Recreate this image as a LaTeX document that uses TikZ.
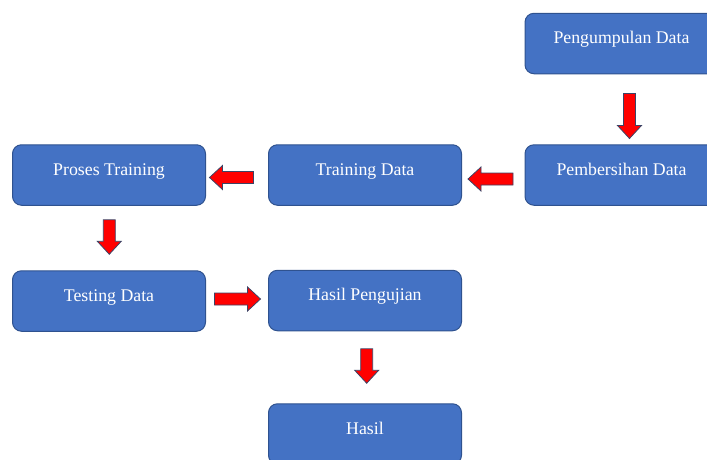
\documentclass[tikz,border=0pt]{standalone}
\usepackage{fontspec}
\setmainfont{Liberation Serif}
\usetikzlibrary{calc}
\definecolor{kotakbiru}{HTML}{4472C4}
\definecolor{garisbiru}{HTML}{2F528F}
\definecolor{garispanah}{HTML}{3B4466}
\tikzset{
  kotak/.style={draw=garisbiru, fill=kotakbiru, line width=1pt, rounded corners=9pt,
    minimum width=193pt, minimum height=60.5pt, inner sep=0pt, text=white,
    font=\fontsize{17.8}{21}\selectfont, text height=9pt, text depth=9pt},
  pics/panah/.style={code={
    \filldraw[fill=red, draw=garispanah, line width=0.8pt, line join=miter]
      (0,-6) -- ({#1-13},-6) -- ({#1-13},-12) -- (#1,0) -- ({#1-13},12) -- ({#1-13},6) -- (0,6) -- cycle;
  }}
}
\begin{document}
\begin{tikzpicture}[x=1pt, y=-1pt]
  \useasboundingbox (0,0) rectangle (707,459);
  \clip (0,0) rectangle (707,459);

  % Kotak proses
  \node[kotak] (peng) at (621.5,43.5) {Pengumpulan Data};
  \node[kotak] (bers) at (621.5,175) {Pembersihan Data};
  \node[kotak] (train) at (365,175) {Training Data};
  \node[kotak] (proses) at (109,175) {Proses Training};
  \node[kotak] (testing) at (109,301) {Testing Data};
  \node[kotak] (uji) at (365,300.5) {Hasil Pengujian};
  \node[kotak] (hasil) at (365,434) {Hasil};

  % Panah
  \pic[rotate=-90] (p1) at ($(peng.south)+(8,19.25)$) {panah=45};
  \pic[rotate=180] (p2) at ($(bers.west)+(-11.5,4)$) {panah=45};
  \pic[rotate=180] (p3) at ($(train.west)+(-14.5,2.5)$) {panah=44};
  \pic[rotate=-90] (p4) at ($(proses.south)+(0.3,14)$) {panah=34.5};
  \pic (p5) at ($(testing.east)+(8.5,-2)$) {panah=46};
  \pic[rotate=-90] (p6) at ($(uji.south)+(1.7,17.5)$) {panah=34.5};
\end{tikzpicture}
\end{document}
